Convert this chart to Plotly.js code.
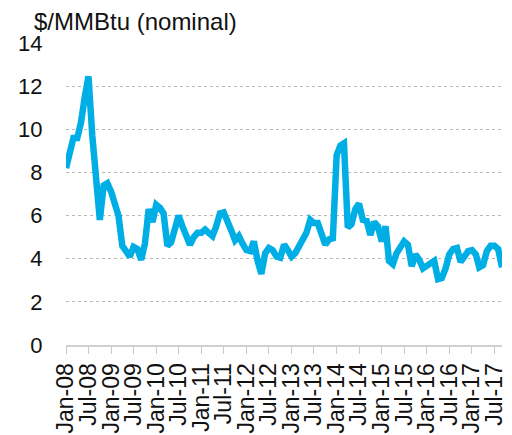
<!DOCTYPE html>
<html>
<head>
<meta charset="utf-8">
<script src="https://cdn.plot.ly/plotly-3.0.1.min.js"></script>
<style>html,body{margin:0;padding:0;background:#fff;}#chart{width:512px;height:435px;}</style>
</head>
<body>
<div id="chart"></div>
<script>
// Monthly prices, $/MMBtu (nominal), Jan-2008 .. Sep-2017
const years = [2008, 2009, 2010, 2011, 2012, 2013, 2014, 2015, 2016, 2017];
const v2008 = [8.2, 8.9, 9.6, 9.6, 10.3, 11.5, 12.45, 9.7, 7.6, 5.8, 7.4, 7.5];
const v2009 = [7.1, 6.5, 6.0, 4.6, 4.35, 4.1, 4.55, 4.45, 3.95, 4.7, 6.3, 5.7];
const v2010 = [6.5, 6.35, 6.1, 4.6, 4.75, 5.4, 6.0, 5.5, 4.95, 4.65, 5.0, 5.2];
const v2011 = [5.2, 5.35, 5.2, 5.05, 5.5, 6.1, 6.15, 5.8, 5.3, 4.85, 5.05, 4.7];
const v2012 = [4.4, 4.35, 4.8, 3.9, 3.3, 4.25, 4.5, 4.4, 4.1, 4.05, 4.65, 4.4];
const v2013 = [4.1, 4.27, 4.57, 4.8, 5.2, 5.8, 5.65, 5.65, 5.1, 4.65, 4.9, 4.95];
const v2014 = [8.8, 9.25, 9.35, 5.45, 5.6, 6.3, 6.55, 5.8, 5.75, 5.1, 5.7, 5.5];
const v2015 = [4.8, 5.5, 3.9, 3.75, 4.25, 4.55, 4.8, 4.65, 3.65, 4.2, 3.95, 3.55];
const v2016 = [3.65, 3.8, 3.9, 3.05, 3.1, 3.55, 4.2, 4.45, 4.5, 3.85, 4.15, 4.35];
const v2017 = [4.4, 4.2, 3.6, 3.7, 4.35, 4.6, 4.6, 4.45, 3.6];
const yearValues = [v2008, v2009, v2010, v2011, v2012, v2013, v2014, v2015, v2016, v2017];

const tickDates = ['2008-01-01','2008-07-01','2009-01-01','2009-07-01','2010-01-01','2010-07-01',
  '2011-01-01','2011-07-01','2012-01-01','2012-07-01','2013-01-01','2013-07-01','2014-01-01','2014-07-01',
  '2015-01-01','2015-07-01','2016-01-01','2016-07-01','2017-01-01','2017-07-01'];
const tickLabels = ['Jan-08','Jul-08','Jan-09','Jul-09','Jan-10','Jul-10','Jan-11','Jul-11','Jan-12','Jul-12',
  'Jan-13','Jul-13','Jan-14','Jul-14','Jan-15','Jul-15','Jan-16','Jul-16','Jan-17','Jul-17'];

const xs = [], ys = [];
years.forEach((yr, i) => {
  yearValues[i].forEach((v, m) => {
    xs.push(yr + '-' + String(m + 1).padStart(2, '0') + '-01');
    ys.push(v);
  });
});

const font = 'Liberation Sans, Arial, sans-serif';
Plotly.newPlot('chart', [{
  x: xs, y: ys, type: 'scatter', mode: 'lines',
  line: {color: '#00AEE6', width: 6.5, shape: 'linear'},
  hoverinfo: 'skip'
}], {
  width: 512, height: 435,
  margin: {l: 66, r: 10, t: 43, b: 90, pad: 0},
  paper_bgcolor: '#fff', plot_bgcolor: '#fff',
  showlegend: false,
  title: {text: '$/MMBtu (nominal)', font: {family: font, size: 24, color: '#111'},
          xref: 'container', yref: 'container', x: 34/512, xanchor: 'left', y: 1 - 22/435, yanchor: 'middle'},
  xaxis: {
    type: 'date', range: ['2008-01-01', '2017-09-01'],
    tickmode: 'array', tickvals: tickDates, ticktext: tickLabels,
    tickangle: -90, tickfont: {family: font, size: 23, color: '#111'},
    ticks: 'outside', ticklen: 7, tickwidth: 1, tickcolor: '#c8c8c8',
    showline: true, linecolor: '#d0d0d0', linewidth: 2,
    showgrid: false, zeroline: false, fixedrange: true
  },
  yaxis: {
    range: [0, 14], tickvals: [0, 2, 4, 6, 8, 10, 12, 14],
    tickfont: {family: font, size: 22, color: '#111'},
    ticks: 'outside', ticklen: 18, tickcolor: 'rgba(0,0,0,0)',
    showgrid: true, gridcolor: '#b8b8b8', griddash: 'dot', gridwidth: 1,
    zeroline: false, showline: false, fixedrange: true
  }
}, {staticPlot: true, displayModeBar: false});
</script>
</body>
</html>
